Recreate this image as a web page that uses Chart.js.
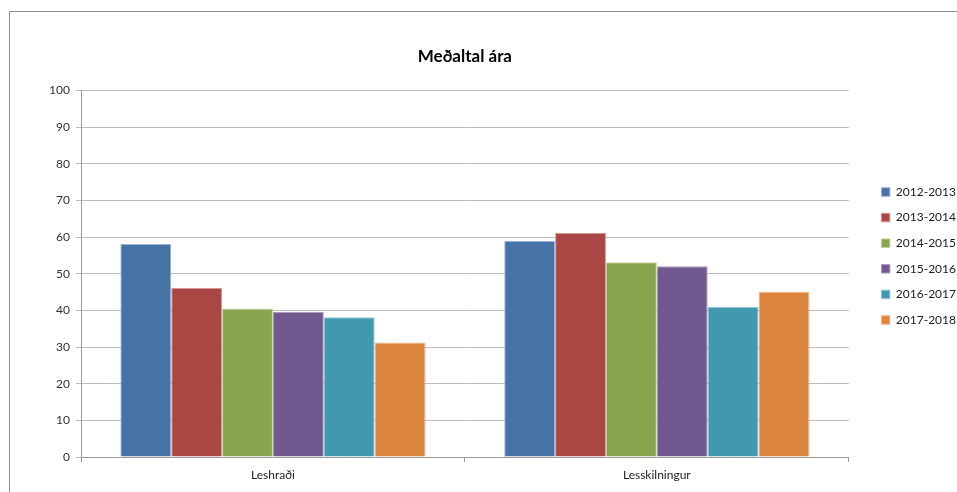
<!DOCTYPE html>
<html>
<head>
<meta charset="utf-8">
<script src="https://cdn.jsdelivr.net/npm/chart.js@4.4.1/dist/chart.umd.min.js"></script>
<style>
  html, body { margin: 0; padding: 0; background: #fff; overflow: hidden; }
  #wrap { position: relative; width: 966px; height: 492px; }
</style>
</head>
<body>
<div id="wrap"><canvas id="chart"></canvas></div>
<script>
// gögn lesin af myndinni
const categories = ["Leshraði", "Lesskilningur"];
const seriesNames = ["2012-2013", "2013-2014", "2014-2015", "2015-2016", "2016-2017", "2017-2018"];
const values2012 = [58.1, 58.9];
const values2013 = [46.2, 61.2];
const values2014 = [40.5, 53.1];
const values2015 = [39.6, 52.0];
const values2016 = [38.1, 41.0];
const values2017 = [31.2, 45.1];
const yTicks = [0, 10, 20, 30, 40, 50, 60, 70, 80, 90, 100];

const allValues = [values2012, values2013, values2014, values2015, values2016, values2017];
const colors = ["#4572A7", "#AA4643", "#89A54E", "#71588F", "#4198AF", "#DB843D"];
const edges = ["#9bb5d6", "#d39a98", "#c3d49e", "#ad9cc2", "#93c6d6", "#f0bb8f"];

const fontFamily = "Lato, 'Open Sans', sans-serif";

// rammi utan um myndina
const framePlugin = {
  id: "frame",
  beforeDraw(chart) {
    const ctx = chart.ctx;
    ctx.save();
    ctx.strokeStyle = "#8c8c8c";
    ctx.lineWidth = 1;
    ctx.beginPath();
    ctx.moveTo(9.5, 492);
    ctx.lineTo(9.5, 11.5);
    ctx.lineTo(966, 11.5);
    ctx.stroke();
    ctx.restore();
  }
};

const datasets = seriesNames.map((name, i) => ({
  label: name,
  data: allValues[i],
  backgroundColor: colors[i],
  borderColor: edges[i],
  borderWidth: 1,
  categoryPercentage: 0.795,
  barPercentage: 1.0
}));

new Chart(document.getElementById("chart"), {
  type: "bar",
  data: { labels: categories, datasets: datasets },
  options: {
    responsive: true,
    maintainAspectRatio: false,
    animation: false,
    devicePixelRatio: 1,
    layout: { padding: { top: 20, left: 10, right: 0, bottom: 0 } },
    plugins: {
      title: {
        display: true,
        text: "Meðaltal ára",
        fullSize: false,
        color: "#000",
        font: { family: fontFamily, size: 17, weight: "bold" },
        padding: { top: 26, bottom: 24 }
      },
      legend: {
        position: "right",
        labels: {
          boxWidth: 8.5,
          boxHeight: 8.5,
          padding: 13.6,
          color: "#222",
          font: { family: fontFamily, size: 12 }
        }
      },
      tooltip: { enabled: false }
    },
    scales: {
      x: {
        grid: {
          offset: true,
          drawOnChartArea: false,
          drawTicks: true,
          tickLength: 5,
          color: "#9a9a9a"
        },
        border: { color: "#9a9a9a" },
        ticks: {
          padding: 6,
          color: "#222",
          font: { family: fontFamily, size: 12 }
        },
        afterFit(scale) { scale.height = 35; }
      },
      y: {
        min: 0,
        max: 100,
        afterBuildTicks(scale) { scale.ticks = yTicks.map(v => ({ value: v })); },
        grid: {
          color: "#bcbcbc",
          tickLength: 5,
          lineWidth: 1
        },
        border: { color: "#9a9a9a" },
        ticks: {
          padding: 6,
          color: "#333",
          font: { family: fontFamily, size: 12 }
        },
        afterFit(scale) { scale.width = 71; }
      },
      gap: {
        type: "linear",
        position: "right",
        display: true,
        grid: { display: false },
        border: { display: false },
        ticks: { display: false },
        afterFit(scale) { scale.width = 19; }
      }
    }
  },
  plugins: [framePlugin]
});
</script>
</body>
</html>
